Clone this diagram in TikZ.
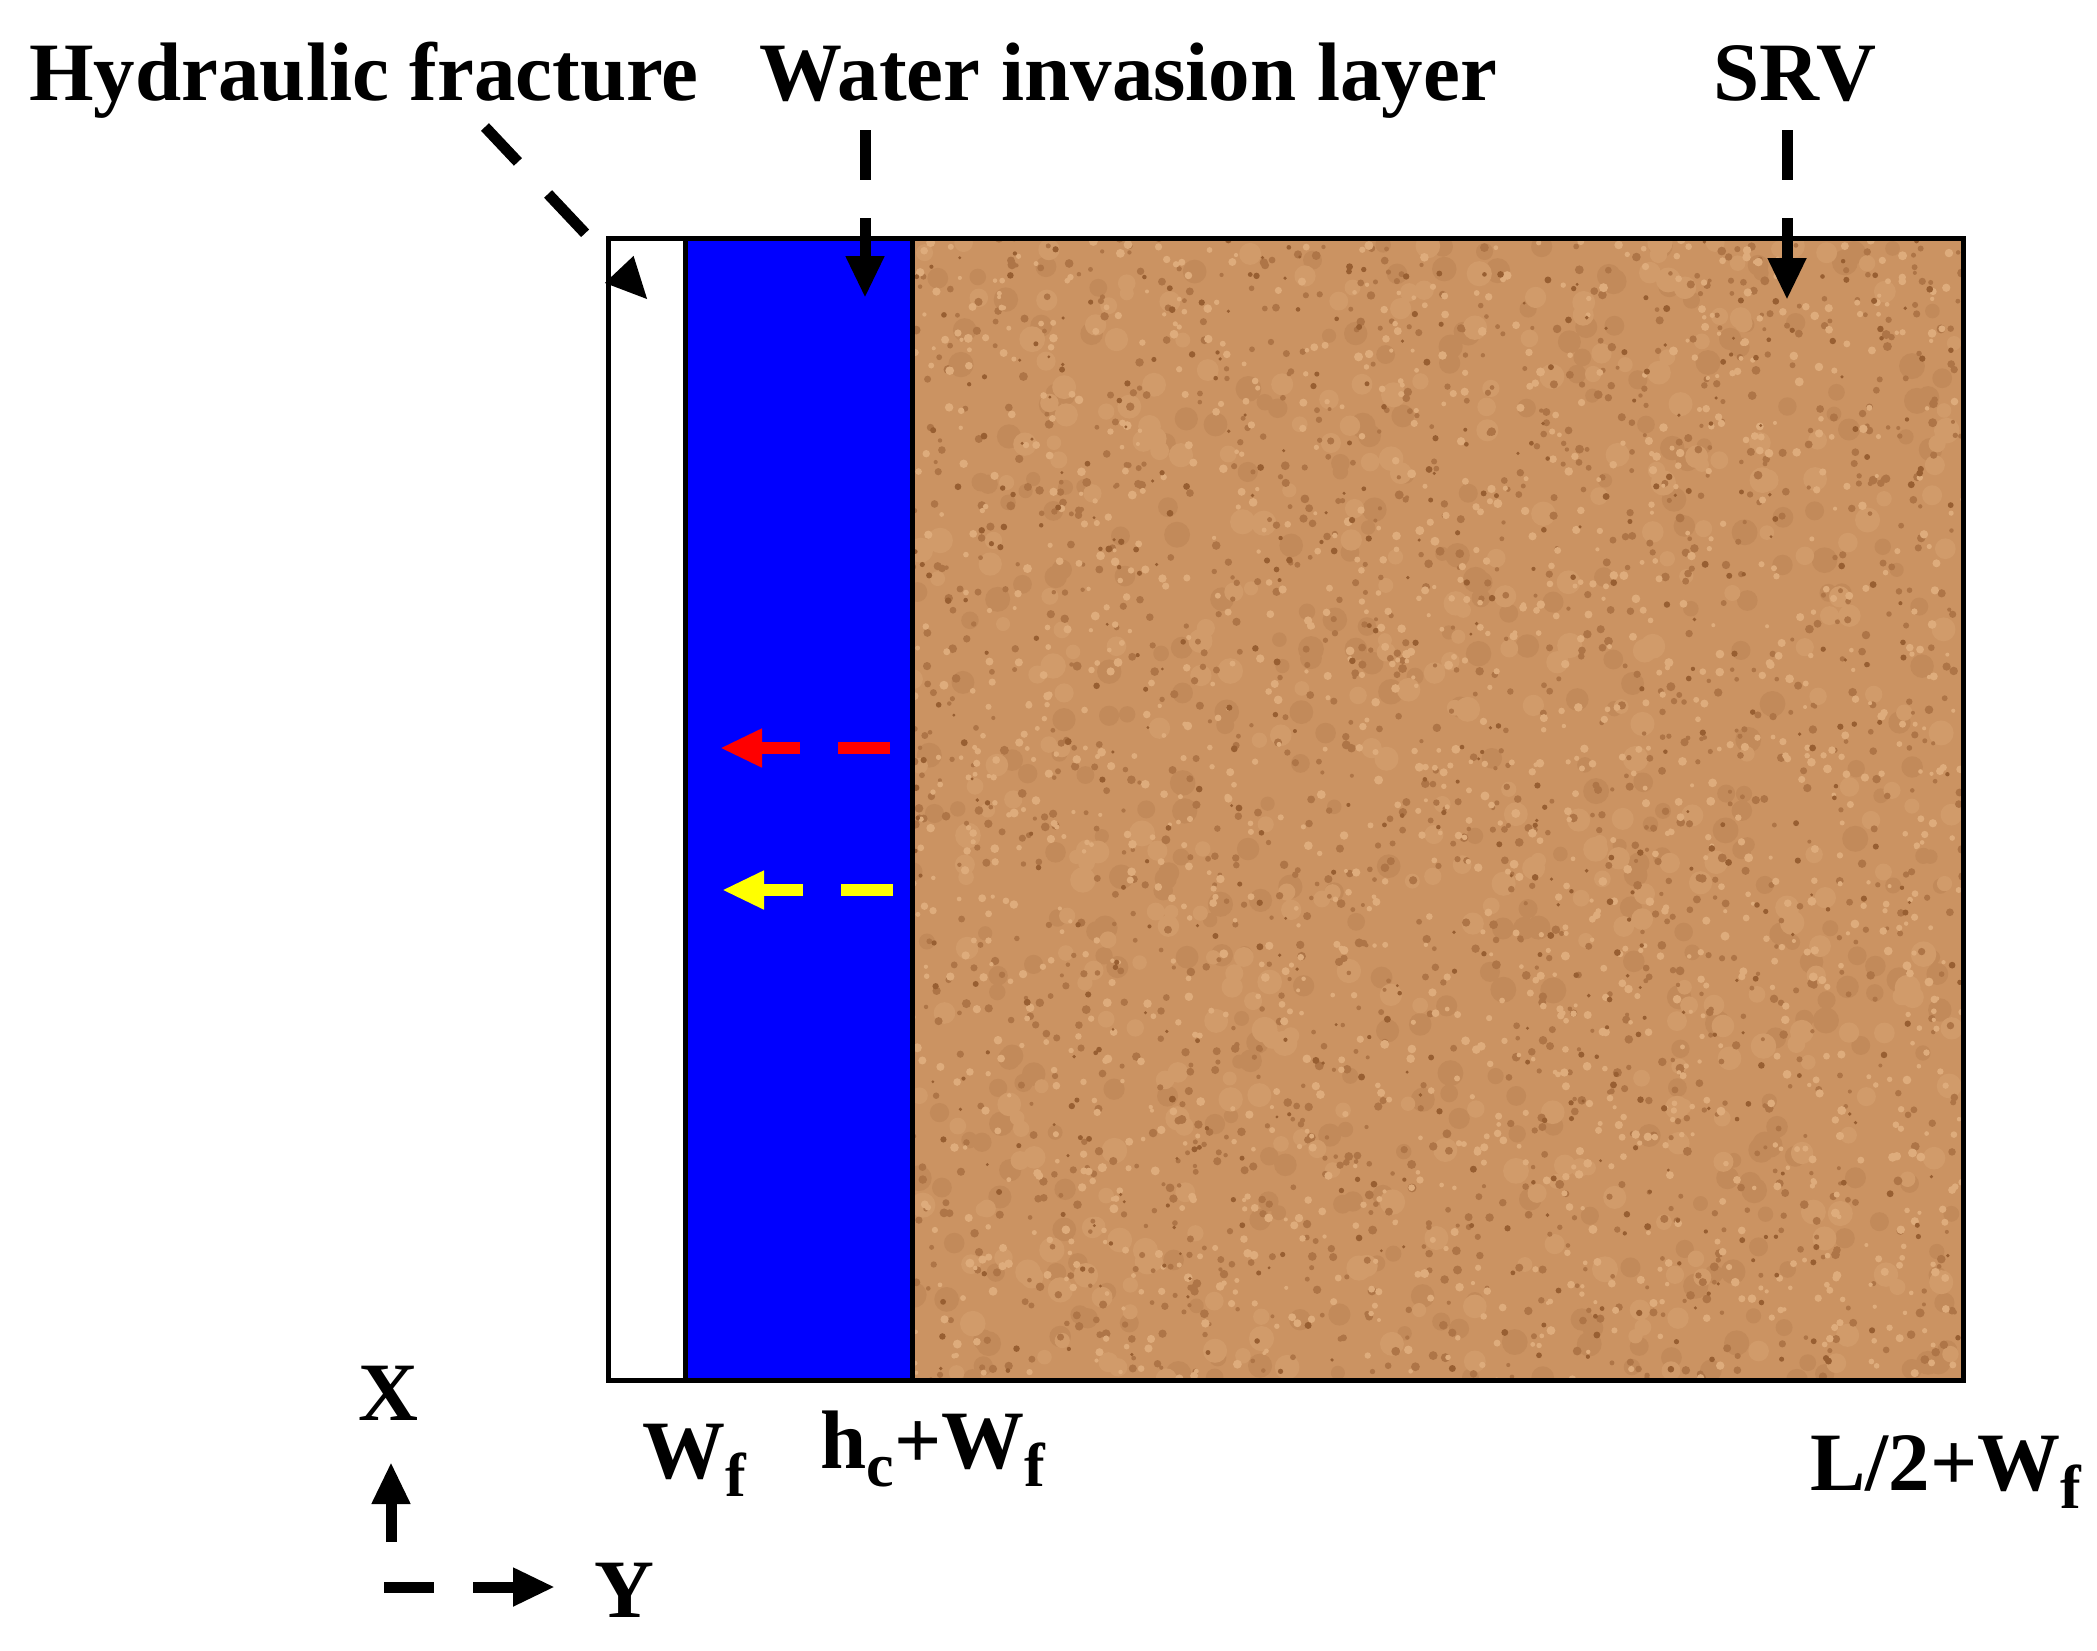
\documentclass[tikz,border=0pt]{standalone}
\usepackage{fontspec}
\setmainfont{Liberation Serif}
\usetikzlibrary{arrows.meta}
\definecolor{sand}{RGB}{203,147,98}
\definecolor{sanddark}{RGB}{130,72,30}
\definecolor{sandlight}{RGB}{240,198,150}
\definecolor{purered}{RGB}{255,0,0}
\definecolor{pureyellow}{RGB}{255,255,0}
\definecolor{pureblue}{RGB}{0,0,255}
\newcommand{\sbs}[1]{\raisebox{-9pt}{\fontsize{31pt}{31pt}\selectfont #1}}
\begin{document}
\begin{tikzpicture}[x=0.5pt,y=-0.5pt,
  lbl/.style={inner sep=0pt, font=\fontsize{41.5pt}{48pt}\selectfont\bfseries},
  tip/.style={-{Triangle[length=21pt,width=18pt]}},
  blk/.style={tip, line width=5.5pt, black},
  flow/.style={tip, line width=6pt},
  border/.style={line width=2.5pt, black}]
\useasboundingbox (0,0) rectangle (2097,1650);

% regions
\fill[white] (608,238) rectangle (685,1380);
\fill[pureblue] (685,238) rectangle (912,1380);
\begin{scope}
  \clip (912,238) rectangle (1963,1380);
  \fill[sand] (912,238) rectangle (1963,1380);
  \pgfmathsetseed{42}
  \fill[sand!88!sanddark] \foreach \i in {1,...,400}{ ({912+1051*rnd},{238+1142*rnd}) circle[radius={7+6*rnd}] };
  \fill[sand!85!sandlight] \foreach \i in {1,...,400}{ ({912+1051*rnd},{238+1142*rnd}) circle[radius={7+6*rnd}] };
  \fill[sand!60!sanddark] \foreach \i in {1,...,1400}{ ({912+1051*rnd},{238+1142*rnd}) circle[radius={2+2.5*rnd}] };
  \fill[sand!50!sandlight] \foreach \i in {1,...,1400}{ ({912+1051*rnd},{238+1142*rnd}) circle[radius={2+2.5*rnd}] };
  \fill[sand!30!sanddark] \foreach \i in {1,...,500}{ ({912+1051*rnd},{238+1142*rnd}) circle[radius={1.5+2*rnd}] };
\end{scope}
\draw[border] (608,238) rectangle (1963,1380);
\draw[border] (685,238) -- (685,1380);
\draw[border] (912,238) -- (912,1380);

% labels
\node[lbl, anchor=base west] (hf) at (29,100) {Hydraulic fracture};
\node[lbl, anchor=base west] (wil) at (759,100) {Water invasion layer};
\node[lbl, anchor=base west] (srv) at (1713,100) {SRV};
\node[lbl, anchor=base] (xl) at (388,1420) {X};
\node[lbl, anchor=base] (yl) at (624,1617) {Y};
\node[lbl, anchor=base west] (wf) at (642,1478) {W\sbs{f}};
\node[lbl, anchor=base west] (hcwf) at (820,1468) {h\sbs{c}+W\sbs{f}};
\node[lbl, anchor=base west] (lwf) at (1810,1490) {L/2+W\sbs{f}};

% arrow end points
\coordinate (hfs) at (485,127);
\coordinate (hfe) at (648,300);
\coordinate (wis) at (865,130);
\coordinate (wie) at (865,298);
\coordinate (srs) at (1787,130);
\coordinate (sre) at (1787,300);
\coordinate (rs) at (890,748);
\coordinate (re) at (720,748);
\coordinate (ys) at (893,890);
\coordinate (ye) at (722,890);
\coordinate (ax0) at (391,1542);
\coordinate (ax1) at (391,1462);
\coordinate (ay0) at (384,1587);
\coordinate (ay1) at (555,1587);

\draw[blk, dash pattern={on 24pt off 22pt on 27pt off 60pt}] (hfs) -- (hfe);
\draw[blk, dash pattern={on 25pt off 19pt on 80pt}] (wis) -- (wie);
\draw[blk, dash pattern={on 25pt off 19pt on 80pt}] (srs) -- (sre);
\draw[flow, purered, dash pattern={on 26pt off 19pt on 80pt}] (rs) -- (re);
\draw[flow, pureyellow, dash pattern={on 26pt off 19pt on 80pt}] (ys) -- (ye);
\draw[blk] (ax0) -- (ax1);
\draw[blk, dash pattern={on 25pt off 19.5pt on 80pt}] (ay0) -- (ay1);
\end{tikzpicture}
\end{document}
